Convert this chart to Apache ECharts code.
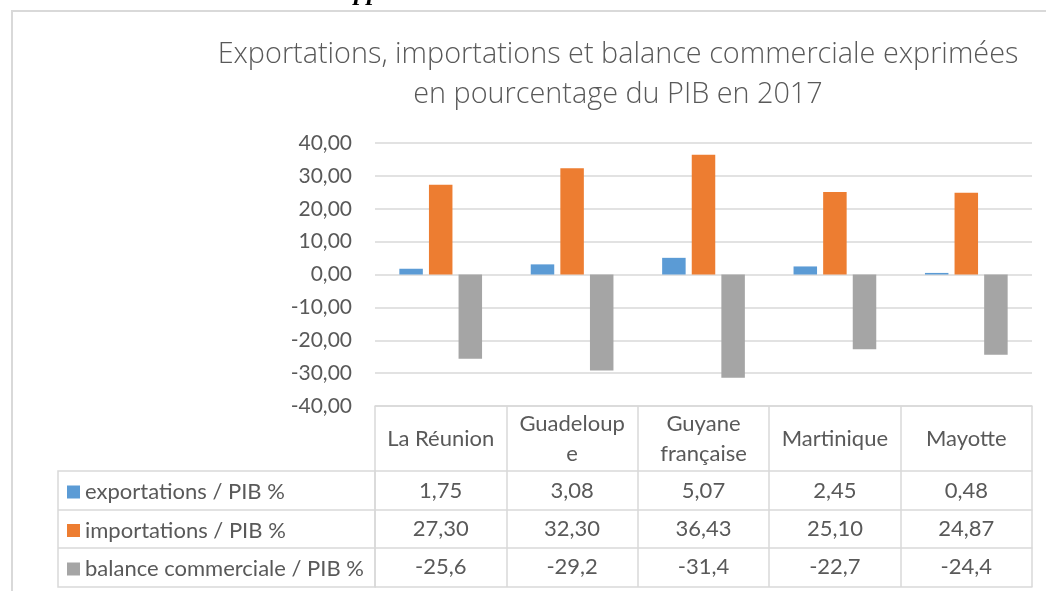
<!DOCTYPE html>
<html>
<head>
<meta charset="utf-8">
<script src="https://cdn.jsdelivr.net/npm/echarts/dist/echarts.min.js"></script>
<style>
html,body{margin:0;padding:0;background:#fff;}
#c{width:1046px;height:591px;}
</style>
</head>
<body>
<div id="c"></div>
<script>
// ---- data ----
var categories = ['La Réunion', 'Guadeloupe', 'Guyane française', 'Martinique', 'Mayotte'];
var headerLabels = ['La Réunion', 'Guadeloup\ne', 'Guyane\nfrançaise', 'Martinique', 'Mayotte'];
var seriesNames = ['exportations / PIB %', 'importations / PIB %', 'balance commerciale / PIB %'];
var exportations = [1.75, 3.08, 5.07, 2.45, 0.48];
var importations = [27.30, 32.30, 36.43, 25.10, 24.87];
var balance = [-25.6, -29.2, -31.4, -22.7, -24.4];
var yTicks = [-40, -30, -20, -10, 0, 10, 20, 30, 40];
var titleText = 'Exportations, importations et balance commerciale exprimées\nen pourcentage du PIB en 2017';

var FONT = 'Lato, "Open Sans", sans-serif';
var TFONT = '"Open Sans", "Noto Sans", sans-serif';
var TXT = '#595959';
var LINE = '#D9D9D9';
var FS = 22;
function fr(v, d) { return v.toFixed(d).replace('.', ','); }

var chart = echarts.init(document.getElementById('c'), null, {renderer: 'canvas'});

function rowAxis(offset, margin, values, dec) {
  return {
    type: 'category', gridIndex: 0, position: 'bottom', offset: offset,
    data: categories,
    axisLine: {show: true, onZero: false, lineStyle: {color: LINE, width: 1.5}},
    axisTick: {show: false},
    splitLine: {show: false},
    axisLabel: values ? {
      show: true, margin: margin, verticalAlign: 'middle', color: TXT, fontSize: FS, fontFamily: FONT,
      interval: 0,
      formatter: function (v, i) { return fr(values[i], dec); }
    } : {show: false}
  };
}

var option = {
  animation: false,
  backgroundColor: '#fff',
  color: ['#5B9BD5', '#ED7D31', '#A5A5A5'],
  title: {
    text: titleText,
    left: 618, top: 35, textAlign: 'center', padding: 0,
    textStyle: {color: TXT, fontSize: 28.8, fontWeight: 300, fontFamily: TFONT, lineHeight: 40}
  },
  legend: {
    orient: 'vertical', left: 67, top: 481, padding: 0,
    itemWidth: 13, itemHeight: 13, itemGap: 16.5,
    icon: 'rect', selectedMode: false,
    textStyle: {color: TXT, fontSize: FS, fontFamily: FONT, lineHeight: 22},
    data: seriesNames
  },
  grid: {left: 375, right: 14, top: 143, bottom: 185, containLabel: false},
  xAxis: [
    {
      type: 'category', gridIndex: 0, position: 'bottom', data: categories,
      axisLine: {show: true, onZero: false, lineStyle: {color: LINE, width: 1.5}},
      axisTick: {show: true, length: 181, lineStyle: {color: LINE, width: 1.5}},
      axisLabel: {
        interval: 0, margin: 33, verticalAlign: 'middle', lineHeight: 30,
        color: TXT, fontSize: FS, fontFamily: FONT,
        formatter: function (v, i) { return headerLabels[i]; }
      }
    },
    rowAxis(65, 20, exportations, 2),
    rowAxis(104, 19, importations, 2),
    rowAxis(142, 19, balance, 1),
    rowAxis(181, 0, null, 0)
  ],
  yAxis: {
    type: 'value', min: yTicks[0], max: yTicks[yTicks.length - 1], interval: 10,
    axisLine: {show: false}, axisTick: {show: false},
    splitLine: {show: true, lineStyle: {color: LINE, width: 1.5}},
    axisLabel: {margin: 23, color: TXT, fontSize: 21, fontFamily: FONT,
      formatter: function (v) { return fr(v, 2); }}
  },
  series: [
    {name: seriesNames[0], type: 'bar', data: exportations, barWidth: 23.5, barGap: '26%', xAxisIndex: 0},
    {name: seriesNames[1], type: 'bar', data: importations, barWidth: 23.5, barGap: '26%', xAxisIndex: 0},
    {name: seriesNames[2], type: 'bar', data: balance, barWidth: 23.5, barGap: '26%', xAxisIndex: 0}
  ],
  graphic: [
    {type: 'rect', z: -10, shape: {x: 12, y: 11, width: 1200, height: 800},
      style: {fill: 'none', stroke: LINE, lineWidth: 2}},
    {type: 'rect', z: 1, shape: {x: 58, y: 471, width: 317, height: 116},
      style: {fill: 'none', stroke: LINE, lineWidth: 1.5}},
    {type: 'line', z: 1, shape: {x1: 58, y1: 510, x2: 375, y2: 510},
      style: {stroke: LINE, lineWidth: 1.5}},
    {type: 'line', z: 1, shape: {x1: 58, y1: 548, x2: 375, y2: 548},
      style: {stroke: LINE, lineWidth: 1.5}},
    {type: 'text', z: 1, x: 354, y: 6,
      style: {text: 'pp', fill: '#000', font: 'italic bold 26px "Liberation Serif", serif', verticalAlign: 'bottom'}}
  ]
};
chart.setOption(option);
</script>
</body>
</html>
